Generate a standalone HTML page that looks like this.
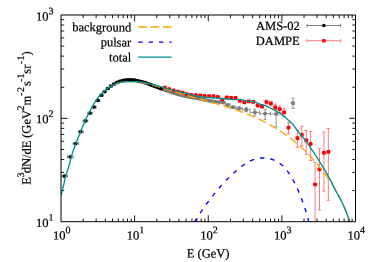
<!DOCTYPE html>
<html><head><meta charset="utf-8"><title>spectrum</title>
<style>html,body{margin:0;padding:0;background:#fff;width:374px;height:262px;overflow:hidden}svg{will-change:transform}text{stroke:#000;stroke-width:0.22px}body{position:relative;font-family:"Liberation Serif",serif}</style></head>
<body>
<svg width="374" height="262" viewBox="0 0 374 262" style="position:absolute;left:0;top:0;font-family:'Liberation Serif',serif;font-size:12.5px;text-rendering:geometricPrecision" stroke-linejoin="round">
<rect width="374" height="262" fill="#fff"/>
<defs><clipPath id="c"><rect x="61.0" y="15.0" width="294.5" height="206.7"/></clipPath></defs>
<path d="M83.16,221.7v-3.2M83.16,15.0v3.2M96.13,221.7v-3.2M96.13,15.0v3.2M105.33,221.7v-3.2M105.33,15.0v3.2M112.46,221.7v-3.2M112.46,15.0v3.2M118.29,221.7v-3.2M118.29,15.0v3.2M123.22,221.7v-3.2M123.22,15.0v3.2M127.49,221.7v-3.2M127.49,15.0v3.2M131.26,221.7v-3.2M131.26,15.0v3.2M134.62,221.7v-6.4M134.62,15.0v6.4M156.79,221.7v-3.2M156.79,15.0v3.2M169.75,221.7v-3.2M169.75,15.0v3.2M178.95,221.7v-3.2M178.95,15.0v3.2M186.09,221.7v-3.2M186.09,15.0v3.2M191.92,221.7v-3.2M191.92,15.0v3.2M196.85,221.7v-3.2M196.85,15.0v3.2M201.12,221.7v-3.2M201.12,15.0v3.2M204.88,221.7v-3.2M204.88,15.0v3.2M208.25,221.7v-6.4M208.25,15.0v6.4M230.41,221.7v-3.2M230.41,15.0v3.2M243.38,221.7v-3.2M243.38,15.0v3.2M252.58,221.7v-3.2M252.58,15.0v3.2M259.71,221.7v-3.2M259.71,15.0v3.2M265.54,221.7v-3.2M265.54,15.0v3.2M270.47,221.7v-3.2M270.47,15.0v3.2M274.74,221.7v-3.2M274.74,15.0v3.2M278.51,221.7v-3.2M278.51,15.0v3.2M281.88,221.7v-6.4M281.88,15.0v6.4M304.04,221.7v-3.2M304.04,15.0v3.2M317.00,221.7v-3.2M317.00,15.0v3.2M326.20,221.7v-3.2M326.20,15.0v3.2M333.34,221.7v-3.2M333.34,15.0v3.2M339.17,221.7v-3.2M339.17,15.0v3.2M344.10,221.7v-3.2M344.10,15.0v3.2M348.37,221.7v-3.2M348.37,15.0v3.2M352.13,221.7v-3.2M352.13,15.0v3.2M61.0,190.59h3.2M355.5,190.59h-3.2M61.0,172.39h3.2M355.5,172.39h-3.2M61.0,159.48h3.2M355.5,159.48h-3.2M61.0,149.46h3.2M355.5,149.46h-3.2M61.0,141.28h3.2M355.5,141.28h-3.2M61.0,134.36h3.2M355.5,134.36h-3.2M61.0,128.37h3.2M355.5,128.37h-3.2M61.0,123.08h3.2M355.5,123.08h-3.2M61.0,118.35h6.4M355.5,118.35h-6.4M61.0,87.24h3.2M355.5,87.24h-3.2M61.0,69.04h3.2M355.5,69.04h-3.2M61.0,56.13h3.2M355.5,56.13h-3.2M61.0,46.11h3.2M355.5,46.11h-3.2M61.0,37.93h3.2M355.5,37.93h-3.2M61.0,31.01h3.2M355.5,31.01h-3.2M61.0,25.02h3.2M355.5,25.02h-3.2M61.0,19.73h3.2M355.5,19.73h-3.2" stroke="#000" stroke-width="0.9" fill="none"/>
<g clip-path="url(#c)" fill="none">
<path d="M61.32,176.11H67.36M61.32,174.61v3M67.36,174.61v3M67.36,156.86H73.10M67.36,155.36v3M73.10,155.36v3M73.10,143.53H78.34M73.10,142.03v3M78.34,142.03v3M78.34,131.69H83.16M78.34,130.19v3M83.16,130.19v3M83.16,120.87H87.77M83.16,119.37v3M87.77,119.37v3M87.77,113.11H92.16M87.77,111.61v3M92.16,111.61v3M92.16,107.10H96.13M92.16,105.60v3M96.13,105.60v3M96.13,100.46H99.75M96.13,98.96v3M99.75,98.96v3M99.75,95.27H103.09M99.75,93.77v3M103.09,93.77v3M103.09,91.60H106.27M103.09,90.10v3M106.27,90.10v3M106.27,88.52H109.38M106.27,87.02v3M109.38,87.02v3M109.38,86.01H112.46M109.38,84.51v3M112.46,84.51v3M112.46,84.00H115.45M112.46,82.50v3M115.45,82.50v3M115.45,82.43H118.29M115.45,80.93v3M118.29,80.93v3M118.29,81.30H121.05M118.29,79.80v3M121.05,79.80v3M121.05,80.59H123.67M121.05,79.09v3M123.67,79.09v3M123.67,80.17H126.23M123.67,78.67v3M126.23,78.67v3M126.23,79.91H128.67M126.23,78.41v3M128.67,78.41v3M128.67,79.90H131.08M128.67,78.40v3M131.08,78.40v3M131.08,79.90H133.39M131.08,78.40v3M133.39,78.40v3M133.39,80.03H135.63M133.39,78.53v3M135.63,78.53v3M135.63,80.50H137.79M135.63,79.00v3M137.79,79.00v3M137.79,80.99H139.92M137.79,79.49v3M139.92,79.49v3M139.92,81.52H141.99M139.92,80.02v3M141.99,80.02v3M141.99,82.10H144.01M141.99,80.60v3M144.01,80.60v3M144.01,82.71H145.95M144.01,81.21v3M145.95,81.21v3M145.95,83.36H147.89M145.95,81.86v3M147.89,81.86v3M147.89,84.03H149.75M147.89,82.53v3M149.75,82.53v3M149.75,84.72H151.59M149.75,83.22v3M151.59,83.22v3M151.59,85.41H153.38M151.59,83.91v3M153.38,83.91v3M153.38,86.07H155.13M153.38,84.57v3M155.13,84.57v3M155.13,86.73H156.85M155.13,85.23v3M156.85,85.23v3M156.85,87.36H158.55M156.85,85.86v3M158.55,85.86v3M158.55,87.96H160.20M158.55,86.46v3M160.20,86.46v3M160.20,88.53H161.84M160.20,87.03v3M161.84,87.03v3M161.84,89.10H163.43M161.84,87.60v3M163.43,87.60v3" stroke="#5a5a5a" stroke-width="0.8"/>
<path d="M163.43,89.67H165.05M163.43,88.17v3M165.05,88.17v3M164.24,89.27V90.07M162.64,89.27h3.2M162.64,90.07h3.2M165.05,90.26H166.68M165.05,88.76v3M166.68,88.76v3M165.87,89.86V90.66M164.27,89.86h3.2M164.27,90.66h3.2M166.68,90.83H168.31M166.68,89.33v3M168.31,89.33v3M167.50,90.43V91.23M165.90,90.43h3.2M165.90,91.23h3.2M168.31,91.39H169.98M168.31,89.89v3M169.98,89.89v3M169.15,90.99V91.79M167.55,90.99h3.2M167.55,91.79h3.2M169.98,91.96H171.64M169.98,90.46v3M171.64,90.46v3M170.81,91.56V92.36M169.21,91.56h3.2M169.21,92.36h3.2M171.64,92.52H173.31M171.64,91.02v3M173.31,91.02v3M172.47,92.12V92.92M170.87,92.12h3.2M170.87,92.92h3.2M173.31,93.07H175.01M173.31,91.57v3M175.01,91.57v3M174.16,92.67V93.47M172.56,92.67h3.2M172.56,93.47h3.2M175.01,93.61H176.73M175.01,92.11v3M176.73,92.11v3M175.87,93.21V94.01M174.27,93.21h3.2M174.27,94.01h3.2M176.73,94.11H178.46M176.73,92.61v3M178.46,92.61v3M177.59,93.71V94.51M175.99,93.71h3.2M175.99,94.51h3.2M178.46,94.59H180.21M178.46,93.09v3M180.21,93.09v3M179.34,94.19V94.99M177.74,94.19h3.2M177.74,94.99h3.2M180.21,95.06H182.00M180.21,93.56v3M182.00,93.56v3M181.11,94.66V95.46M179.51,94.66h3.2M179.51,95.46h3.2M182.00,95.51H183.81M182.00,94.01v3M183.81,94.01v3M182.91,95.11V95.91M181.31,95.11h3.2M181.31,95.91h3.2M183.81,95.94H185.66M183.81,94.44v3M185.66,94.44v3M184.73,95.54V96.34M183.13,95.54h3.2M183.13,96.34h3.2M185.66,96.35H187.54M185.66,94.85v3M187.54,94.85v3M186.60,95.95V96.75M185.00,95.95h3.2M185.00,96.75h3.2M187.54,96.74H189.47M187.54,95.24v3M189.47,95.24v3M188.51,96.34V97.14M186.91,96.34h3.2M186.91,97.14h3.2M189.47,97.09H191.45M189.47,95.59v3M191.45,95.59v3M190.46,96.69V97.49M188.86,96.69h3.2M188.86,97.49h3.2M191.45,97.42H193.49M191.45,95.92v3M193.49,95.92v3M192.47,96.72V98.12M190.87,96.72h3.2M190.87,98.12h3.2M193.49,97.76H195.59M193.49,96.26v3M195.59,96.26v3M194.54,97.06V98.46M192.94,97.06h3.2M192.94,98.46h3.2M195.59,98.14H197.77M195.59,96.64v3M197.77,96.64v3M196.68,97.44V98.84M195.08,97.44h3.2M195.08,98.84h3.2M197.77,98.61H200.05M197.77,97.11v3M200.05,97.11v3M198.91,97.91V99.31M197.31,97.91h3.2M197.31,99.31h3.2M200.05,99.16H202.43M200.05,97.66v3M202.43,97.66v3M201.24,98.46V99.86M199.64,98.46h3.2M199.64,99.86h3.2M202.43,99.74H204.95M202.43,98.24v3M204.95,98.24v3M203.69,99.04V100.44M202.09,99.04h3.2M202.09,100.44h3.2M204.95,100.27H207.63M204.95,98.77v3M207.63,98.77v3M206.29,99.57V100.97M204.69,99.57h3.2M204.69,100.97h3.2M207.63,100.79H210.50M207.63,99.29v3M210.50,99.29v3M209.07,100.09V101.49M207.47,100.09h3.2M207.47,101.49h3.2M210.50,101.30H213.65M210.50,99.80v3M213.65,99.80v3M212.08,100.60V102.00M210.48,100.60h3.2M210.48,102.00h3.2M213.65,101.75H217.15M213.65,100.25v3M217.15,100.25v3M215.40,101.05V102.45M213.80,101.05h3.2M213.80,102.45h3.2M217.15,102.05H220.96M217.15,100.55v3M220.96,100.55v3M219.05,101.35V102.75M217.45,101.35h3.2M217.45,102.75h3.2M220.96,102.45H225.20M220.96,100.95v3M225.20,100.95v3M223.08,101.45V103.45M221.48,101.45h3.2M221.48,103.45h3.2M225.20,104.86H230.04M225.20,103.36v3M230.04,103.36v3M227.62,103.86V105.86M226.02,103.86h3.2M226.02,105.86h3.2M230.04,107.17H235.87M230.04,105.67v3M235.87,105.67v3M232.96,105.87V108.47M231.36,105.87h3.2M231.36,108.47h3.2M235.87,108.42H242.29M235.87,106.92v3M242.29,106.92v3M239.08,106.82V110.02M237.48,106.82h3.2M237.48,110.02h3.2M242.29,109.64H250.08M242.29,108.14v3M250.08,108.14v3M246.19,107.64V111.74M244.59,107.64h3.2M244.59,111.74h3.2M250.08,112.40H259.71M250.08,110.90v3M259.71,110.90v3M254.90,109.10V115.90M253.30,109.10h3.2M253.30,115.90h3.2M259.71,113.60H270.47M259.71,112.10v3M270.47,112.10v3M265.09,109.30V119.40M263.49,109.30h3.2M263.49,119.40h3.2M270.47,114.00H281.88M270.47,112.50v3M281.88,112.50v3M276.17,109.60V127.00M274.57,109.60h3.2M274.57,127.00h3.2" stroke="#8a8a8a" stroke-width="0.9"/>
<circle cx="64.34" cy="176.11" r="1.85" fill="#000"/>
<circle cx="70.23" cy="156.86" r="1.85" fill="#000"/>
<circle cx="75.72" cy="143.53" r="1.85" fill="#000"/>
<circle cx="80.75" cy="131.69" r="1.85" fill="#000"/>
<circle cx="85.47" cy="120.87" r="1.85" fill="#000"/>
<circle cx="89.97" cy="113.11" r="1.85" fill="#000"/>
<circle cx="94.14" cy="107.10" r="1.85" fill="#000"/>
<circle cx="97.94" cy="100.46" r="1.85" fill="#000"/>
<circle cx="101.42" cy="95.27" r="1.85" fill="#000"/>
<circle cx="104.68" cy="91.60" r="1.85" fill="#000"/>
<circle cx="107.82" cy="88.52" r="1.85" fill="#000"/>
<circle cx="110.92" cy="86.01" r="1.85" fill="#000"/>
<circle cx="113.96" cy="84.00" r="1.85" fill="#000"/>
<circle cx="116.87" cy="82.43" r="1.85" fill="#000"/>
<circle cx="119.67" cy="81.30" r="1.85" fill="#000"/>
<circle cx="122.36" cy="80.59" r="1.85" fill="#000"/>
<circle cx="124.95" cy="80.17" r="1.85" fill="#000"/>
<circle cx="127.45" cy="79.91" r="1.85" fill="#000"/>
<circle cx="129.87" cy="79.90" r="1.85" fill="#000"/>
<circle cx="132.23" cy="79.90" r="1.85" fill="#000"/>
<circle cx="134.51" cy="80.03" r="1.85" fill="#000"/>
<circle cx="136.71" cy="80.50" r="1.85" fill="#000"/>
<circle cx="138.85" cy="80.99" r="1.85" fill="#000"/>
<circle cx="140.95" cy="81.52" r="1.85" fill="#000"/>
<circle cx="143.00" cy="82.10" r="1.85" fill="#000"/>
<circle cx="144.98" cy="82.71" r="1.85" fill="#000"/>
<circle cx="146.92" cy="83.36" r="1.85" fill="#000"/>
<circle cx="148.82" cy="84.03" r="1.85" fill="#000"/>
<circle cx="150.67" cy="84.72" r="1.85" fill="#000"/>
<circle cx="152.49" cy="85.41" r="1.85" fill="#000"/>
<circle cx="154.26" cy="86.07" r="1.85" fill="#000"/>
<circle cx="155.99" cy="86.73" r="1.85" fill="#000"/>
<circle cx="157.70" cy="87.36" r="1.85" fill="#000"/>
<circle cx="159.37" cy="87.96" r="1.85" fill="#000"/>
<circle cx="161.02" cy="88.53" r="1.85" fill="#000"/>
<circle cx="162.63" cy="89.10" r="1.85" fill="#000"/>
<circle cx="164.24" cy="89.67" r="1.95" fill="#7a7a7a"/>
<circle cx="165.87" cy="90.26" r="1.95" fill="#7a7a7a"/>
<circle cx="167.50" cy="90.83" r="1.95" fill="#7a7a7a"/>
<circle cx="169.15" cy="91.39" r="1.95" fill="#7a7a7a"/>
<circle cx="170.81" cy="91.96" r="1.95" fill="#7a7a7a"/>
<circle cx="172.47" cy="92.52" r="1.95" fill="#7a7a7a"/>
<circle cx="174.16" cy="93.07" r="1.95" fill="#7a7a7a"/>
<circle cx="175.87" cy="93.61" r="1.95" fill="#7a7a7a"/>
<circle cx="177.59" cy="94.11" r="1.95" fill="#7a7a7a"/>
<circle cx="179.34" cy="94.59" r="1.95" fill="#7a7a7a"/>
<circle cx="181.11" cy="95.06" r="1.95" fill="#7a7a7a"/>
<circle cx="182.91" cy="95.51" r="1.95" fill="#7a7a7a"/>
<circle cx="184.73" cy="95.94" r="1.95" fill="#7a7a7a"/>
<circle cx="186.60" cy="96.35" r="1.95" fill="#7a7a7a"/>
<circle cx="188.51" cy="96.74" r="1.95" fill="#7a7a7a"/>
<circle cx="190.46" cy="97.09" r="1.95" fill="#7a7a7a"/>
<circle cx="192.47" cy="97.42" r="1.95" fill="#7a7a7a"/>
<circle cx="194.54" cy="97.76" r="1.95" fill="#7a7a7a"/>
<circle cx="196.68" cy="98.14" r="1.95" fill="#7a7a7a"/>
<circle cx="198.91" cy="98.61" r="1.95" fill="#7a7a7a"/>
<circle cx="201.24" cy="99.16" r="1.95" fill="#7a7a7a"/>
<circle cx="203.69" cy="99.74" r="1.95" fill="#7a7a7a"/>
<circle cx="206.29" cy="100.27" r="1.95" fill="#7a7a7a"/>
<circle cx="209.07" cy="100.79" r="1.95" fill="#7a7a7a"/>
<circle cx="212.08" cy="101.30" r="1.95" fill="#7a7a7a"/>
<circle cx="215.40" cy="101.75" r="1.95" fill="#7a7a7a"/>
<circle cx="219.05" cy="102.05" r="1.95" fill="#7a7a7a"/>
<circle cx="223.08" cy="102.45" r="1.95" fill="#7a7a7a"/>
<circle cx="227.62" cy="104.86" r="1.95" fill="#7a7a7a"/>
<circle cx="232.96" cy="107.17" r="1.95" fill="#7a7a7a"/>
<circle cx="239.08" cy="108.42" r="1.95" fill="#7a7a7a"/>
<circle cx="246.19" cy="109.64" r="1.95" fill="#7a7a7a"/>
<circle cx="254.90" cy="112.40" r="1.95" fill="#7a7a7a"/>
<circle cx="265.09" cy="113.60" r="1.95" fill="#7a7a7a"/>
<circle cx="276.17" cy="114.00" r="1.95" fill="#7a7a7a"/>
<path d="M162.59,87.70h4.42M167.01,89.00h4.42M171.43,90.30h4.42M175.85,91.50h4.42M180.27,92.50h4.42M184.69,94.00h4.42M189.11,94.80h4.42M193.53,95.10h4.42M197.95,95.50h4.42M202.37,95.90h4.42M206.79,96.10h4.42M211.21,96.20h4.42M215.63,96.80h4.42M220.05,99.50h4.42M224.47,97.40h4.42M228.89,97.90h4.42M233.31,97.90h4.42M237.73,100.90h4.42M242.15,102.40h4.42M246.57,101.40h4.42M248.78,100.40V102.40M247.18,100.40h3.2M247.18,102.40h3.2M250.99,101.80h4.42M253.20,100.70V103.00M251.60,100.70h3.2M251.60,103.00h3.2M255.41,105.40h4.42M257.62,104.10V106.80M256.02,104.10h3.2M256.02,106.80h3.2M259.83,106.50h4.42M262.04,105.00V108.10M260.44,105.00h3.2M260.44,108.10h3.2M264.25,102.00h4.42M266.46,100.10V104.00M264.86,100.10h3.2M264.86,104.00h3.2M268.67,103.50h4.42M270.88,101.20V105.90M269.28,101.20h3.2M269.28,105.90h3.2M273.09,107.40h4.42M275.30,104.20V110.70M273.70,104.20h3.2M273.70,110.70h3.2M277.51,109.10h4.42M279.72,105.90V112.50M278.12,105.90h3.2M278.12,112.50h3.2M281.93,112.40h4.42M284.14,108.60V116.60M282.54,108.60h3.2M282.54,116.60h3.2M286.35,127.70h4.42M288.56,122.40V133.70M286.96,122.40h3.2M286.96,133.70h3.2M295.19,138.10h4.42M297.40,130.40V147.40M295.80,130.40h3.2M295.80,147.40h3.2M299.61,134.90h4.42M301.82,126.20V145.90M300.22,126.20h3.2M300.22,145.90h3.2M304.03,140.40h4.42M306.24,130.40V154.40M304.64,130.40h3.2M304.64,154.40h3.2M308.45,143.90h4.42M310.66,131.40V160.50M309.06,131.40h3.2M309.06,160.50h3.2M312.87,184.50h4.42M315.08,162.50V230.00M313.48,162.50h3.2M313.48,230.00h3.2M317.29,169.40h4.42M319.50,148.40V209.90M317.90,148.40h3.2M317.90,209.90h3.2M321.71,152.90h4.42M323.92,132.20V191.10M322.32,132.20h3.2M322.32,191.10h3.2M326.13,151.90h4.42M328.34,128.50V200.30M326.74,128.50h3.2M326.74,200.30h3.2" stroke="#ff5a5a" stroke-width="0.8"/>
<path d="M290.77,103.10h4.42M292.98,98.20V108.40M291.38,98.20h3.2M291.38,108.40h3.2" stroke="#8a8a8a" stroke-width="0.9"/>
<rect x="162.95" y="85.85" width="3.7" height="3.7" rx="0.7" fill="#ff0000"/>
<rect x="167.37" y="87.15" width="3.7" height="3.7" rx="0.7" fill="#ff0000"/>
<rect x="171.79" y="88.45" width="3.7" height="3.7" rx="0.7" fill="#ff0000"/>
<rect x="176.21" y="89.65" width="3.7" height="3.7" rx="0.7" fill="#ff0000"/>
<rect x="180.63" y="90.65" width="3.7" height="3.7" rx="0.7" fill="#ff0000"/>
<rect x="185.05" y="92.15" width="3.7" height="3.7" rx="0.7" fill="#ff0000"/>
<rect x="189.47" y="92.95" width="3.7" height="3.7" rx="0.7" fill="#ff0000"/>
<rect x="193.89" y="93.25" width="3.7" height="3.7" rx="0.7" fill="#ff0000"/>
<rect x="198.31" y="93.65" width="3.7" height="3.7" rx="0.7" fill="#ff0000"/>
<rect x="202.73" y="94.05" width="3.7" height="3.7" rx="0.7" fill="#ff0000"/>
<rect x="207.15" y="94.25" width="3.7" height="3.7" rx="0.7" fill="#ff0000"/>
<rect x="211.57" y="94.35" width="3.7" height="3.7" rx="0.7" fill="#ff0000"/>
<rect x="215.99" y="94.95" width="3.7" height="3.7" rx="0.7" fill="#ff0000"/>
<rect x="220.41" y="97.65" width="3.7" height="3.7" rx="0.7" fill="#ff0000"/>
<rect x="224.83" y="95.55" width="3.7" height="3.7" rx="0.7" fill="#ff0000"/>
<rect x="229.25" y="96.05" width="3.7" height="3.7" rx="0.7" fill="#ff0000"/>
<rect x="233.67" y="96.05" width="3.7" height="3.7" rx="0.7" fill="#ff0000"/>
<rect x="238.09" y="99.05" width="3.7" height="3.7" rx="0.7" fill="#ff0000"/>
<rect x="242.51" y="100.55" width="3.7" height="3.7" rx="0.7" fill="#ff0000"/>
<rect x="246.93" y="99.55" width="3.7" height="3.7" rx="0.7" fill="#ff0000"/>
<rect x="251.35" y="99.95" width="3.7" height="3.7" rx="0.7" fill="#ff0000"/>
<rect x="255.77" y="103.55" width="3.7" height="3.7" rx="0.7" fill="#ff0000"/>
<rect x="260.19" y="104.65" width="3.7" height="3.7" rx="0.7" fill="#ff0000"/>
<rect x="264.61" y="100.15" width="3.7" height="3.7" rx="0.7" fill="#ff0000"/>
<rect x="269.03" y="101.65" width="3.7" height="3.7" rx="0.7" fill="#ff0000"/>
<rect x="273.45" y="105.55" width="3.7" height="3.7" rx="0.7" fill="#ff0000"/>
<rect x="277.87" y="107.25" width="3.7" height="3.7" rx="0.7" fill="#ff0000"/>
<rect x="282.29" y="110.55" width="3.7" height="3.7" rx="0.7" fill="#ff0000"/>
<rect x="286.71" y="125.85" width="3.7" height="3.7" rx="0.7" fill="#ff0000"/>
<rect x="291.13" y="101.25" width="3.7" height="3.7" rx="0.7" fill="#808080"/>
<rect x="295.55" y="136.25" width="3.7" height="3.7" rx="0.7" fill="#ff0000"/>
<rect x="299.97" y="133.05" width="3.7" height="3.7" rx="0.7" fill="#ff0000"/>
<rect x="304.39" y="138.55" width="3.7" height="3.7" rx="0.7" fill="#ff0000"/>
<rect x="308.81" y="142.05" width="3.7" height="3.7" rx="0.7" fill="#ff0000"/>
<rect x="313.23" y="182.65" width="3.7" height="3.7" rx="0.7" fill="#ff0000"/>
<rect x="317.65" y="167.55" width="3.7" height="3.7" rx="0.7" fill="#ff0000"/>
<rect x="322.07" y="151.05" width="3.7" height="3.7" rx="0.7" fill="#ff0000"/>
<rect x="326.49" y="150.05" width="3.7" height="3.7" rx="0.7" fill="#ff0000"/>
<path d="M110.80,86.30 L111.36,85.99 L111.92,85.69 L112.48,85.40 L113.03,85.13 L113.59,84.86 L114.15,84.61 L114.71,84.37 L115.27,84.14 L115.84,83.93 L116.40,83.72 L116.96,83.53 L117.52,83.34 L118.08,83.17 L118.65,83.01 L119.21,82.85 L119.77,82.71 L120.34,82.58 L120.90,82.45 L121.47,82.34 L122.03,82.23 L122.60,82.13 L123.16,82.05 L123.73,81.97 L124.30,81.90 L124.86,81.83 L125.43,81.78 L126.00,81.73 L126.57,81.69 L127.14,81.66 L127.70,81.64 L128.27,81.62 L128.84,81.61 L129.41,81.61 L129.98,81.61 L130.55,81.62 L131.12,81.63 L131.69,81.66 L132.26,81.68 L132.83,81.72 L133.41,81.75 L133.98,81.80 L134.55,81.84 L135.12,81.90 L135.69,81.95 L136.27,82.02 L136.84,82.08 L137.41,82.15 L137.99,82.23 L138.56,82.30 L139.13,82.39 L139.71,82.47 L140.28,82.56 L140.86,82.65 L141.43,82.75 L142.01,82.85 L142.58,82.95 L143.16,83.05 L143.73,83.16 L144.31,83.27 L144.89,83.39 L145.46,83.51 L146.04,83.63 L146.61,83.75 L147.19,83.88 L147.77,84.01 L148.35,84.14 L148.92,84.27 L149.50,84.41 L150.08,84.55 L150.66,84.69 L151.23,84.83 L151.81,84.98 L152.39,85.13 L152.97,85.28 L153.55,85.43 L154.12,85.58 L154.70,85.74 L155.28,85.90 L155.86,86.06 L156.44,86.22 L157.02,86.38 L157.60,86.54 L158.18,86.71 L158.76,86.88 L159.34,87.05 L159.92,87.22 L160.49,87.39 L161.07,87.56 L161.65,87.74 L162.23,87.91 L162.81,88.09 L163.39,88.26 L163.97,88.44 L164.55,88.62 L165.13,88.80 L165.71,88.98 L166.29,89.16 L166.87,89.34 L167.46,89.52 L168.04,89.70 L168.62,89.88 L169.20,90.07 L169.78,90.25 L170.36,90.43 L170.94,90.62 L171.52,90.80 L172.10,90.98 L172.68,91.16 L173.26,91.35 L173.84,91.53 L174.42,91.71 L175.00,91.89 L175.58,92.07 L176.16,92.25 L176.74,92.43 L177.32,92.61 L177.90,92.79 L178.48,92.97 L179.06,93.14 L179.64,93.32 L180.22,93.50 L180.80,93.67 L181.38,93.84 L181.96,94.02 L182.54,94.19 L183.12,94.36 L183.70,94.53 L184.28,94.70 L184.86,94.87 L185.44,95.04 L186.01,95.21 L186.59,95.38 L187.17,95.55 L187.75,95.72 L188.33,95.88 L188.91,96.05 L189.49,96.22 L190.06,96.38 L190.64,96.55 L191.22,96.71 L191.80,96.88 L192.38,97.04 L192.95,97.20 L193.53,97.37 L194.11,97.53 L194.69,97.69 L195.26,97.86 L195.84,98.02 L196.42,98.18 L196.99,98.34 L197.57,98.50 L198.14,98.66 L198.72,98.83 L199.30,98.99 L199.87,99.15 L200.45,99.31 L201.02,99.47 L201.60,99.63 L202.17,99.79 L202.75,99.95 L203.32,100.11 L203.89,100.27 L204.47,100.43 L205.04,100.59 L205.61,100.75 L206.19,100.92 L206.76,101.08 L207.33,101.24 L207.90,101.40 L208.48,101.56 L209.05,101.72 L209.62,101.88 L210.19,102.04 L210.76,102.21 L211.33,102.37 L211.90,102.53 L212.47,102.69 L213.04,102.86 L213.61,103.02 L214.18,103.18 L214.75,103.35 L215.32,103.51 L215.89,103.68 L216.45,103.84 L217.02,104.01 L217.59,104.17 L218.16,104.34 L218.72,104.51 L219.29,104.68 L219.85,104.84 L220.42,105.01 L220.98,105.18 L221.55,105.35 L222.11,105.52 L222.68,105.69 L223.24,105.86 L223.81,106.04 L224.37,106.21 L224.93,106.38 L225.49,106.56 L226.05,106.73 L226.62,106.91 L227.18,107.08 L227.74,107.26 L228.30,107.44 L228.86,107.62 L229.42,107.80 L229.98,107.98 L230.53,108.16 L231.09,108.34 L231.65,108.52 L232.21,108.71 L232.77,108.89 L233.32,109.08 L233.88,109.26 L234.43,109.45 L234.99,109.64 L235.54,109.83 L236.10,110.02 L236.65,110.21 L237.20,110.40 L237.76,110.60 L238.31,110.79 L238.86,110.99 L239.41,111.18 L239.96,111.38 L240.51,111.58 L241.06,111.78 L241.61,111.99 L242.16,112.19 L242.71,112.39 L243.26,112.60 L243.80,112.81 L244.35,113.01 L244.90,113.22 L245.44,113.43 L245.99,113.65 L246.53,113.86 L247.08,114.08 L247.62,114.29 L248.16,114.51 L248.71,114.73 L249.25,114.95 L249.79,115.17 L250.33,115.40 L250.87,115.62 L251.41,115.85 L251.95,116.08 L252.49,116.31 L253.02,116.54 L253.56,116.77 L254.10,117.00 L254.63,117.24 L255.17,117.48 L255.70,117.71 L256.24,117.95 L256.77,118.20 L257.30,118.44 L257.83,118.69 L258.36,118.93 L258.89,119.18 L259.42,119.43 L259.95,119.68 L260.48,119.93 L261.01,120.19 L261.54,120.44 L262.06,120.70 L262.59,120.96 L263.11,121.22 L263.63,121.49 L264.16,121.75 L264.68,122.02 L265.20,122.28 L265.72,122.55 L266.24,122.83 L266.76,123.10 L267.28,123.37 L267.80,123.65 L268.31,123.93 L268.83,124.21 L269.34,124.49 L269.86,124.77 L270.37,125.06 L270.88,125.35 L271.39,125.64 L271.90,125.93 L272.41,126.22 L272.92,126.51 L273.43,126.81 L273.93,127.11 L274.44,127.41 L274.94,127.71 L275.45,128.01 L275.95,128.32 L276.45,128.63 L276.95,128.94 L277.45,129.25 L277.95,129.56 L278.45,129.88 L278.95,130.19 L279.44,130.51 L279.94,130.83 L280.43,131.16 L280.93,131.48 L281.42,131.81 L281.91,132.14 L282.40,132.47 L282.89,132.80 L283.38,133.14 L283.86,133.47 L284.35,133.81 L284.83,134.15 L285.32,134.50 L285.80,134.84 L286.28,135.19 L286.76,135.54 L287.24,135.89 L287.72,136.24 L288.19,136.59 L288.67,136.95 L289.14,137.30 L289.62,137.66 L290.09,138.03 L290.56,138.39 L291.03,138.75 L291.50,139.12 L291.97,139.49 L292.43,139.86 L292.90,140.23 L293.36,140.60 L293.82,140.98 L294.28,141.36 L294.74,141.73 L295.20,142.11 L295.66,142.50 L296.12,142.88 L296.57,143.27 L297.03,143.65 L297.48,144.04 L297.93,144.43 L298.38,144.82 L298.83,145.22 L299.28,145.61 L299.72,146.01 L300.17,146.41 L300.61,146.81 L301.05,147.21 L301.49,147.61 L301.93,148.01 L302.37,148.42 L302.81,148.83 L303.24,149.24 L303.67,149.65 L304.11,150.06 L304.54,150.47 L304.97,150.88 L305.40,151.30 L305.82,151.72 L306.25,152.14 L306.67,152.56 L307.09,152.98 L307.51,153.40 L307.93,153.82 L308.35,154.25 L308.77,154.68 L309.18,155.10 L309.60,155.53 L310.01,155.97 L310.42,156.40 L310.83,156.83 L311.24,157.27 L311.64,157.70 L312.05,158.14 L312.45,158.58 L312.85,159.02 L313.25,159.46 L313.65,159.90 L314.05,160.35 L314.44,160.79 L314.84,161.24 L315.23,161.69 L315.62,162.14 L316.01,162.59 L316.40,163.04 L316.79,163.49 L317.17,163.94 L317.56,164.40 L317.94,164.86 L318.32,165.31 L318.70,165.77 L319.08,166.23 L319.45,166.70 L319.83,167.16 L320.20,167.62 L320.57,168.09 L320.94,168.55 L321.31,169.02 L321.67,169.49 L322.04,169.96 L322.40,170.43 L322.76,170.90 L323.12,171.38 L323.48,171.85 L323.84,172.33 L324.20,172.80 L324.55,173.28 L324.90,173.76 L325.25,174.24 L325.60,174.72 L325.95,175.20 L326.29,175.69 L326.64,176.17 L326.98,176.66 L327.32,177.15 L327.66,177.63 L328.00,178.12 L328.34,178.61 L328.67,179.10 L329.00,179.60 L329.33,180.09 L329.66,180.58 L329.99,181.08 L330.32,181.58 L330.64,182.07 L330.96,182.57 L331.29,183.07 L331.61,183.57 L331.92,184.08 L332.24,184.58 L332.55,185.08 L332.87,185.59 L333.18,186.09 L333.49,186.60 L333.80,187.11 L334.10,187.62 L334.41,188.13 L334.71,188.64 L335.01,189.15 L335.31,189.66 L335.61,190.18 L335.90,190.69 L336.20,191.21 L336.49,191.72 L336.78,192.24 L337.07,192.76 L337.35,193.28 L337.64,193.80 L337.92,194.32 L338.21,194.84 L338.49,195.36 L338.76,195.89 L339.04,196.41 L339.32,196.94 L339.59,197.47 L339.86,197.99 L340.13,198.52 L340.40,199.05 L340.66,199.58 L340.93,200.11 L341.19,200.64 L341.45,201.18 L341.71,201.71 L341.97,202.24 L342.22,202.78 L342.48,203.32 L342.73,203.85 L342.98,204.39 L343.23,204.93 L343.47,205.47 L343.72,206.01 L343.96,206.55 L344.20,207.09 L344.44,207.63 L344.68,208.18 L344.91,208.72 L345.14,209.27 L345.38,209.81 L345.61,210.36 L345.83,210.91 L346.06,211.45 L346.28,212.00 L346.51,212.55 L346.73,213.10 L346.95,213.65 L347.16,214.20 L347.38,214.76 L347.59,215.31 L347.80,215.86 L348.01,216.42 L348.22,216.97 L348.42,217.53 L348.63,218.09 L348.83,218.64 L349.03,219.20 L349.23,219.76 L349.42,220.32 L349.62,220.88 L349.81,221.44 L350.00,222.00" stroke="#ffa500" stroke-width="1.35" stroke-dasharray="8.3 4.1" stroke-dashoffset="7.22"/>
<path d="M194.45,221.85 L194.95,221.07 L195.46,220.30 L195.96,219.53 L196.47,218.75 L196.97,217.99 L197.48,217.22 L197.98,216.45 L198.49,215.69 L199.00,214.93 L199.51,214.17 L200.02,213.41 L200.53,212.65 L201.04,211.90 L201.56,211.14 L202.07,210.39 L202.59,209.64 L203.11,208.90 L203.62,208.15 L204.15,207.41 L204.67,206.67 L205.19,205.93 L205.72,205.19 L206.25,204.46 L206.77,203.73 L207.31,203.00 L207.84,202.27 L208.38,201.54 L208.91,200.81 L209.45,200.09 L210.00,199.37 L210.54,198.65 L211.09,197.94 L211.64,197.22 L212.19,196.51 L212.74,195.80 L213.30,195.09 L213.86,194.39 L214.43,193.68 L214.99,192.98 L215.56,192.28 L216.13,191.58 L216.71,190.89 L217.29,190.20 L217.87,189.51 L218.45,188.82 L219.04,188.13 L219.63,187.45 L220.23,186.77 L220.83,186.09 L221.43,185.41 L222.04,184.74 L222.65,184.06 L223.26,183.39 L223.88,182.73 L224.50,182.06 L225.13,181.40 L225.76,180.74 L226.39,180.08 L227.03,179.43 L227.67,178.78 L228.32,178.13 L228.97,177.48 L229.63,176.84 L230.29,176.20 L230.96,175.56 L231.63,174.92 L232.30,174.29 L232.98,173.66 L233.67,173.03 L234.36,172.41 L235.06,171.79 L235.76,171.17 L236.46,170.55 L237.17,169.94 L237.89,169.33 L238.61,168.73 L239.34,168.13 L240.07,167.54 L240.81,166.96 L241.56,166.39 L242.31,165.83 L243.06,165.28 L243.82,164.74 L244.59,164.22 L245.37,163.71 L246.15,163.21 L246.93,162.73 L247.73,162.27 L248.52,161.83 L249.33,161.41 L250.14,161.01 L250.96,160.63 L251.79,160.27 L252.62,159.93 L253.46,159.62 L254.30,159.34 L255.15,159.08 L256.01,158.85 L256.87,158.65 L257.74,158.47 L258.61,158.32 L259.49,158.20 L260.37,158.10 L261.25,158.03 L262.13,157.99 L263.01,157.97 L263.89,157.98 L264.77,158.02 L265.64,158.08 L266.52,158.17 L267.39,158.28 L268.25,158.43 L269.12,158.59 L269.97,158.79 L270.82,159.01 L271.66,159.26 L272.50,159.53 L273.32,159.83 L274.14,160.16 L274.95,160.51 L275.74,160.89 L276.52,161.29 L277.30,161.72 L278.05,162.18 L278.80,162.66 L279.53,163.17 L280.24,163.71 L280.95,164.27 L281.63,164.85 L282.31,165.45 L282.97,166.07 L283.62,166.71 L284.25,167.37 L284.87,168.05 L285.48,168.75 L286.08,169.46 L286.67,170.18 L287.24,170.92 L287.81,171.67 L288.36,172.43 L288.90,173.19 L289.43,173.97 L289.95,174.76 L290.46,175.55 L290.95,176.35 L291.44,177.15 L291.92,177.96 L292.39,178.76 L292.85,179.57 L293.30,180.38 L293.75,181.20 L294.18,182.01 L294.61,182.83 L295.03,183.65 L295.44,184.47 L295.84,185.29 L296.24,186.11 L296.62,186.93 L297.01,187.76 L297.38,188.59 L297.75,189.42 L298.12,190.25 L298.48,191.08 L298.83,191.92 L299.18,192.75 L299.52,193.59 L299.86,194.43 L300.20,195.27 L300.53,196.11 L300.86,196.96 L301.18,197.80 L301.50,198.65 L301.82,199.50 L302.13,200.35 L302.45,201.20 L302.76,202.05 L303.06,202.90 L303.37,203.76 L303.67,204.61 L303.97,205.47 L304.27,206.33 L304.56,207.19 L304.85,208.05 L305.13,208.91 L305.41,209.78 L305.69,210.64 L305.96,211.51 L306.23,212.38 L306.49,213.25 L306.74,214.12 L306.99,214.99 L307.24,215.86 L307.47,216.73 L307.70,217.61 L307.93,218.49 L308.15,219.36 L308.35,220.24 L308.56,221.12 L308.75,222.00" stroke="#0000ff" stroke-width="1.35" stroke-dasharray="4.4 6.0"/>
<path d="M61.00,195.50 L61.25,194.66 L61.50,193.81 L61.75,192.92 L62.00,192.00 L62.25,191.03 L62.50,190.01 L62.75,188.94 L63.00,187.85 L63.25,186.74 L63.50,185.61 L63.75,184.48 L64.00,183.35 L64.25,182.24 L64.50,181.14 L64.75,180.08 L65.00,179.06 L65.25,178.09 L65.30,177.90 L65.50,177.16 L65.75,176.27 L66.00,175.41 L66.25,174.57 L66.50,173.75 L66.75,172.94 L67.00,172.15 L67.25,171.36 L67.50,170.57 L67.75,169.78 L68.00,168.98 L68.25,168.18 L68.50,167.36 L68.75,166.52 L68.90,166.00 L69.00,165.65 L69.25,164.76 L69.50,163.84 L69.75,162.91 L70.00,161.96 L70.25,161.01 L70.50,160.05 L70.75,159.09 L71.00,158.13 L71.25,157.19 L71.50,156.26 L71.75,155.36 L72.00,154.48 L72.25,153.63 L72.50,152.81 L72.60,152.50 L72.75,152.04 L73.00,151.28 L73.25,150.54 L73.50,149.82 L73.75,149.12 L74.00,148.43 L74.25,147.75 L74.50,147.08 L74.75,146.42 L75.00,145.77 L75.25,145.12 L75.50,144.48 L75.75,143.84 L76.00,143.20 L76.25,142.57 L76.50,141.93 L76.75,141.29 L76.90,140.90 L77.00,140.64 L77.25,140.00 L77.50,139.36 L77.75,138.73 L78.00,138.10 L78.25,137.47 L78.50,136.85 L78.75,136.23 L79.00,135.61 L79.25,134.99 L79.50,134.38 L79.75,133.77 L79.90,133.40 L80.00,133.16 L80.25,132.55 L80.50,131.95 L80.75,131.36 L81.00,130.76 L81.25,130.17 L81.50,129.58 L81.75,128.99 L82.00,128.40 L82.25,127.81 L82.50,127.21 L82.75,126.61 L83.00,126.00 L83.25,125.38 L83.50,124.74 L83.75,124.09 L84.00,123.44 L84.25,122.79 L84.50,122.15 L84.75,121.52 L85.00,120.92 L85.25,120.33 L85.40,120.00 L85.50,119.78 L85.75,119.25 L86.00,118.74 L86.25,118.24 L86.50,117.76 L86.75,117.28 L87.00,116.81 L87.25,116.35 L87.50,115.89 L87.75,115.44 L88.00,114.98 L88.25,114.52 L88.50,114.06 L88.75,113.59 L88.90,113.30 L89.00,113.11 L89.25,112.62 L89.50,112.13 L89.75,111.64 L90.00,111.15 L90.25,110.65 L90.50,110.16 L90.75,109.67 L91.00,109.19 L91.25,108.71 L91.50,108.23 L91.75,107.76 L92.00,107.30 L92.25,106.84 L92.50,106.39 L92.75,105.93 L93.00,105.47 L93.25,105.02 L93.50,104.57 L93.75,104.13 L94.00,103.69 L94.25,103.25 L94.50,102.82 L94.75,102.40 L95.00,101.99 L95.25,101.59 L95.50,101.20 L95.75,100.82 L95.90,100.60 L96.00,100.45 L96.25,100.09 L96.50,99.74 L96.75,99.39 L97.00,99.04 L97.25,98.70 L97.50,98.36 L97.75,98.03 L98.00,97.71 L98.25,97.39 L98.50,97.07 L98.75,96.76 L99.00,96.46 L99.25,96.16 L99.50,95.86 L99.75,95.57 L100.00,95.29 L100.50,94.73 L100.90,94.30 L101.00,94.19 L101.50,93.67 L102.00,93.17 L102.50,92.68 L103.00,92.21 L103.50,91.75 L104.00,91.30 L104.50,90.87 L105.00,90.45 L105.50,90.04 L105.80,89.80 L106.00,89.64 L106.50,89.25 L107.00,88.87 L107.50,88.50 L108.00,88.14 L108.50,87.79 L109.00,87.44 L109.50,87.11 L110.00,86.79 L110.50,86.48 L110.80,86.30 L111.00,86.18 L111.50,85.88 L112.00,85.59 L112.50,85.31 L113.00,85.03 L113.50,84.76 L114.00,84.50 L114.50,84.26 L115.00,84.03 L115.50,83.82 L115.80,83.70 L116.00,83.62 L116.50,83.44 L117.00,83.26 L117.50,83.09 L118.00,82.94 L118.50,82.79 L119.00,82.66 L119.50,82.54 L119.70,82.50 L120.00,82.44 L120.50,82.34 L121.00,82.25 L121.50,82.16 L122.00,82.08 L122.50,82.01 L123.00,81.95 L123.50,81.90 L124.00,81.85 L124.50,81.80 L125.00,81.76 L125.50,81.72 L126.00,81.68 L126.50,81.65 L127.00,81.62 L127.50,81.61 L128.00,81.60 L128.50,81.60 L129.00,81.60 L129.50,81.60 L130.00,81.60 L130.50,81.60 L131.00,81.60 L131.50,81.60 L132.00,81.60 L132.50,81.60 L133.00,81.60 L133.50,81.60 L134.00,81.61 L134.50,81.62 L135.00,81.64 L135.50,81.66 L136.00,81.69 L136.50,81.71 L137.00,81.74 L137.50,81.77 L138.00,81.80 L138.50,81.84 L139.00,81.88 L139.50,81.93 L140.00,81.99 L140.50,82.06 L141.00,82.13 L141.50,82.22 L142.00,82.30 L142.50,82.39 L143.00,82.49 L143.50,82.58 L144.00,82.68 L144.50,82.79 L145.00,82.89 L145.50,83.00 L146.00,83.10 L146.50,83.21 L147.00,83.32 L147.50,83.42 L147.90,83.50 L148.00,83.52 L148.50,83.62 L149.00,83.73 L149.50,83.84 L150.00,83.94 L150.50,84.06 L151.00,84.17 L151.50,84.29 L152.00,84.41 L152.50,84.53 L153.00,84.65 L153.50,84.77 L154.00,84.90 L154.50,85.03 L155.00,85.16 L155.50,85.29 L156.00,85.42 L156.50,85.55 L157.00,85.68 L157.50,85.82 L157.80,85.90 L158.00,85.95 L158.50,86.10 L159.00,86.24 L159.50,86.39 L160.00,86.55 L160.50,86.70 L161.00,86.86 L161.50,87.01 L162.00,87.16 L162.50,87.31 L162.80,87.40 L163.00,87.46 L163.50,87.60 L164.00,87.75 L164.50,87.89 L165.00,88.03 L165.50,88.17 L166.00,88.31 L166.50,88.45 L167.00,88.58 L167.50,88.72 L167.80,88.80 L168.00,88.85 L168.50,88.99 L169.00,89.12 L169.50,89.25 L170.00,89.38 L170.50,89.51 L171.00,89.63 L171.50,89.76 L172.00,89.89 L172.50,90.02 L173.00,90.14 L173.50,90.27 L174.00,90.40 L174.50,90.53 L175.00,90.66 L175.50,90.79 L176.00,90.91 L176.50,91.04 L177.00,91.17 L177.50,91.30 L177.90,91.40 L178.00,91.43 L178.50,91.55 L179.00,91.68 L179.50,91.81 L180.00,91.93 L180.50,92.06 L181.00,92.19 L181.50,92.32 L182.00,92.44 L182.50,92.57 L183.00,92.70 L183.50,92.82 L184.00,92.95 L184.50,93.07 L185.00,93.20 L185.50,93.33 L186.00,93.45 L186.50,93.58 L187.00,93.70 L187.50,93.83 L187.80,93.90 L188.00,93.95 L188.50,94.08 L189.00,94.20 L189.50,94.33 L190.00,94.47 L190.50,94.60 L191.00,94.73 L191.50,94.86 L192.00,94.99 L192.50,95.11 L193.00,95.24 L193.50,95.36 L194.00,95.48 L194.50,95.59 L195.00,95.70 L195.50,95.80 L196.00,95.90 L196.50,95.99 L197.00,96.08 L197.50,96.17 L198.00,96.26 L198.50,96.35 L199.00,96.43 L199.50,96.51 L200.00,96.59 L200.50,96.67 L201.00,96.75 L201.50,96.82 L202.00,96.89 L202.50,96.96 L203.00,97.02 L203.50,97.08 L204.00,97.14 L204.50,97.20 L205.00,97.25 L205.50,97.31 L206.00,97.35 L206.50,97.40 L207.00,97.45 L207.50,97.49 L208.00,97.53 L208.50,97.58 L209.00,97.62 L209.50,97.66 L210.00,97.70 L210.50,97.73 L211.00,97.77 L211.50,97.81 L212.00,97.85 L212.50,97.89 L213.00,97.93 L213.50,97.97 L213.90,98.00 L214.00,98.01 L214.50,98.05 L215.00,98.09 L215.50,98.13 L216.00,98.17 L216.50,98.21 L217.00,98.25 L217.50,98.29 L218.00,98.33 L218.50,98.37 L218.90,98.40 L219.00,98.41 L219.50,98.44 L220.00,98.47 L220.50,98.51 L221.00,98.54 L221.50,98.57 L222.00,98.60 L222.50,98.63 L223.00,98.66 L223.50,98.69 L224.00,98.73 L224.50,98.76 L225.00,98.80 L225.50,98.84 L226.00,98.89 L226.50,98.95 L227.00,99.00 L227.50,99.06 L228.00,99.12 L228.50,99.19 L229.00,99.25 L229.50,99.30 L230.00,99.35 L230.50,99.40 L231.00,99.44 L231.50,99.48 L232.00,99.50 L232.50,99.52 L233.00,99.54 L233.50,99.55 L234.00,99.57 L234.50,99.58 L235.00,99.59 L235.50,99.60 L236.00,99.60 L236.50,99.59 L237.00,99.57 L237.50,99.54 L238.00,99.50 L238.50,99.46 L239.00,99.43 L239.50,99.41 L240.00,99.40 L240.50,99.43 L241.00,99.50 L241.50,99.61 L242.00,99.74 L242.50,99.90 L243.00,100.06 L243.50,100.22 L244.00,100.37 L244.50,100.50 L245.00,100.60 L245.50,100.68 L246.00,100.75 L246.50,100.81 L247.00,100.87 L247.50,100.92 L248.00,100.98 L248.50,101.03 L249.00,101.09 L249.50,101.15 L249.90,101.20 L250.00,101.21 L250.50,101.27 L251.00,101.33 L251.50,101.39 L252.00,101.45 L252.50,101.51 L253.00,101.58 L253.50,101.65 L254.00,101.73 L254.50,101.82 L254.90,101.90 L255.00,101.92 L255.50,102.07 L256.00,102.26 L256.50,102.49 L257.00,102.74 L257.50,103.01 L258.00,103.28 L258.50,103.54 L259.00,103.78 L259.50,103.99 L259.80,104.10 L260.00,104.16 L260.50,104.31 L261.00,104.44 L261.50,104.56 L262.00,104.68 L262.50,104.79 L263.00,104.90 L263.50,105.02 L264.00,105.15 L264.50,105.30 L264.80,105.40 L265.00,105.47 L265.50,105.67 L266.00,105.89 L266.50,106.13 L267.00,106.39 L267.50,106.66 L268.00,106.93 L268.50,107.21 L269.00,107.48 L269.50,107.75 L269.80,107.90 L270.00,108.00 L270.50,108.25 L271.00,108.49 L271.50,108.74 L272.00,108.98 L272.50,109.22 L273.00,109.47 L273.50,109.71 L274.00,109.96 L274.50,110.22 L275.00,110.47 L275.50,110.73 L276.00,111.00 L276.50,111.27 L277.00,111.54 L277.50,111.82 L278.00,112.09 L278.50,112.38 L279.00,112.67 L279.50,112.97 L280.00,113.28 L280.50,113.60 L280.80,113.80 L281.00,113.94 L281.50,114.29 L282.00,114.66 L282.50,115.04 L283.00,115.44 L283.50,115.85 L284.00,116.26 L284.50,116.68 L285.00,117.11 L285.50,117.54 L285.80,117.80 L286.00,117.97 L286.50,118.42 L287.00,118.89 L287.50,119.35 L288.00,119.82 L288.20,120.00 L288.50,120.27 L289.00,120.70 L289.50,121.12 L290.00,121.54 L290.50,121.97 L291.00,122.42 L291.50,122.89 L291.90,123.30 L292.00,123.41 L292.50,123.97 L293.00,124.58 L293.50,125.23 L294.00,125.90 L294.50,126.60 L295.00,127.30 L295.50,128.01 L296.00,128.70 L296.50,129.38 L296.90,129.90 L297.00,130.03 L297.50,130.67 L298.00,131.30 L298.50,131.93 L299.00,132.56 L299.50,133.18 L300.00,133.80 L300.50,134.42 L301.00,135.03 L301.50,135.64 L301.80,136.00 L302.00,136.24 L302.50,136.82 L303.00,137.39 L303.50,137.95 L304.00,138.51 L304.50,139.08 L305.00,139.67 L305.50,140.29 L305.90,140.80 L306.00,140.93 L306.50,141.62 L307.00,142.34 L307.50,143.09 L308.00,143.87 L308.50,144.65 L309.00,145.45 L309.50,146.24 L310.00,147.03 L310.50,147.80 L310.90,148.40 L311.00,148.55 L311.50,149.28 L312.00,150.00 L312.50,150.71 L313.00,151.42 L313.50,152.13 L314.00,152.84 L314.50,153.56 L315.00,154.30 L315.50,155.04 L315.80,155.50 L316.00,155.81 L316.50,156.59 L317.00,157.39 L317.50,158.21 L318.00,159.03 L318.50,159.85 L319.00,160.68 L319.50,161.51 L319.80,162.00 L320.00,162.33 L320.50,163.14 L321.00,163.96 L321.50,164.77 L322.00,165.59 L322.50,166.40 L323.00,167.22 L323.50,168.04 L324.00,168.87 L324.50,169.70 L325.00,170.54 L325.50,171.39 L325.80,171.90 L326.00,172.24 L326.50,173.10 L327.00,173.97 L327.50,174.83 L328.00,175.71 L328.50,176.59 L329.00,177.49 L329.50,178.39 L330.00,179.31 L330.50,180.24 L330.80,180.80 L331.00,181.18 L331.50,182.16 L332.00,183.16 L332.50,184.17 L333.00,185.21 L333.50,186.24 L334.00,187.28 L334.50,188.31 L335.00,189.32 L335.50,190.32 L335.80,190.90 L336.00,191.28 L336.50,192.22 L337.00,193.13 L337.50,194.02 L338.00,194.90 L338.50,195.77 L339.00,196.65 L339.50,197.53 L340.00,198.43 L340.50,199.35 L341.00,200.29 L341.50,201.28 L342.00,202.30 L342.50,203.36 L343.00,204.44 L343.50,205.55 L344.00,206.68 L344.50,207.83 L345.00,209.01 L345.50,210.21 L346.00,211.43 L346.50,212.67 L347.00,213.94 L347.50,215.23 L348.00,216.54 L348.50,217.87 L349.00,219.23 L349.50,220.60 L350.00,222.00" stroke="#009090" stroke-width="1.35"/>
</g>
<rect x="61.0" y="15.0" width="294.5" height="206.7" fill="none" stroke="#000" stroke-width="1"/>
<text x="131.2" y="31.4" text-anchor="end" transform="rotate(0.1 102.2 31.4)">background</text>
<text x="131.2" y="46.4" text-anchor="end" transform="rotate(0.1 116.2 46.4)">pulsar</text>
<text x="131.2" y="61.4" text-anchor="end" transform="rotate(0.1 120.2 61.4)">total</text>
<text x="299.8" y="30.1" text-anchor="end" transform="rotate(0.1 278.3 30.1)">AMS-02</text>
<text x="299.6" y="45.1" text-anchor="end" transform="rotate(0.1 278.1 45.1)">DAMPE</text>
<path d="M138.2,27H171.6" stroke="#ffa500" stroke-width="1.35" stroke-dasharray="8.6 3.8" fill="none"/>
<path d="M138.2,42.1H171.6" stroke="#0000ff" stroke-width="1.35" stroke-dasharray="4.5 5.9" fill="none"/>
<path d="M138.2,57.15H171.6" stroke="#009090" stroke-width="1.35" fill="none"/>
<path d="M307.1,25.5H340.7M307.1,23.9v3.2M340.7,23.9v3.2" stroke="#5a5a5a" stroke-width="0.8" fill="none"/>
<circle cx="323.8" cy="25.5" r="1.8" fill="#000"/>
<path d="M307.1,40.7H340.7M307.1,39.1v3.2M340.7,39.1v3.2" stroke="#ff5a5a" stroke-width="0.8" fill="none"/>
<rect x="322.1" y="39.0" width="3.4" height="3.4" rx="0.5" fill="#ff0000"/>
<text x="53.6" y="20.5" text-anchor="end" transform="rotate(0.1 44.6 20.5)">10<tspan font-size="10px" dy="-6.3">3</tspan></text>
<text x="53.6" y="123.3" text-anchor="end" transform="rotate(0.1 44.6 123.3)">10<tspan font-size="10px" dy="-6.3">2</tspan></text>
<text x="53.6" y="226.9" text-anchor="end" transform="rotate(0.1 44.6 226.9)">10<tspan font-size="10px" dy="-6.3">1</tspan></text>
<text x="61.8" y="239.6" text-anchor="middle" transform="rotate(0.1 61.8 239.6)">10<tspan font-size="10px" dy="-6.3">0</tspan></text>
<text x="135.43" y="239.6" text-anchor="middle" transform="rotate(0.1 135.43 239.6)">10<tspan font-size="10px" dy="-6.3">1</tspan></text>
<text x="209.05" y="239.6" text-anchor="middle" transform="rotate(0.1 209.05 239.6)">10<tspan font-size="10px" dy="-6.3">2</tspan></text>
<text x="282.68" y="239.6" text-anchor="middle" transform="rotate(0.1 282.68 239.6)">10<tspan font-size="10px" dy="-6.3">3</tspan></text>
<text x="356.3" y="239.6" text-anchor="middle" transform="rotate(0.1 356.3 239.6)">10<tspan font-size="10px" dy="-6.3">4</tspan></text>
<text x="208.2" y="257.6" text-anchor="middle" transform="rotate(0.1 208.2 257.6)">E (GeV)</text>
<text transform="translate(30.6,184.8) rotate(-89.9)" >E</text><text transform="translate(24.0,177.5) rotate(-89.9)" font-size="10px">3</text><text transform="translate(30.6,173.3) rotate(-89.9)" >dN/dE</text><text transform="translate(30.6,137.8) rotate(-89.9)" >(GeV</text><text transform="translate(24.0,110.6) rotate(-89.9)" font-size="10px">2</text><text transform="translate(30.6,105.5) rotate(-89.9)" >m</text><text transform="translate(24.0,96.0) rotate(-89.9)" font-size="10px">-</text><text transform="translate(24.0,92.0) rotate(-89.9)" font-size="10px">2</text><text transform="translate(30.6,86.0) rotate(-89.9)" >s</text><text transform="translate(24.0,82.0) rotate(-89.9)" font-size="10px">-</text><text transform="translate(24.0,78.4) rotate(-89.9)" font-size="10px">1</text><text transform="translate(30.6,73.7) rotate(-89.9)" >sr</text><text transform="translate(24.0,64.3) rotate(-89.9)" font-size="10px">-</text><text transform="translate(24.0,60.6) rotate(-89.9)" font-size="10px">1</text><text transform="translate(30.6,55.6) rotate(-89.9)" >)</text>
</svg>
</body></html>
